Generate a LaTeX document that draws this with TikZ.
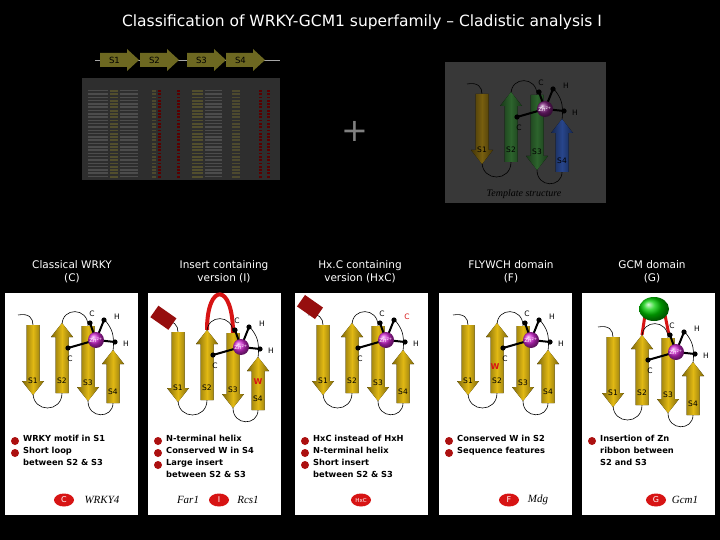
\documentclass[tikz,border=0pt]{standalone}
\usepackage{fontspec}
\setmainfont{DejaVu Sans}
\newfontfamily\ser{Liberation Serif}
\definecolor{gld}{RGB}{225,185,20}
\definecolor{zn}{RGB}{210,40,210}
\definecolor{rd}{RGB}{215,20,20}
\definecolor{ta}{RGB}{120,95,15}
\definecolor{tb}{RGB}{45,100,45}
\definecolor{tc}{RGB}{40,70,140}
\definecolor{tz}{RGB}{120,30,120}
\tikzset{
  stick/.style={black,line width=2pt},
  lab/.style={font=\fontsize{7.5}{8}\selectfont,inner sep=0pt},
  head/.style={white,font=\fontsize{10.5}{13}\selectfont,align=center},
  bul/.style={circle,fill=rd!80!black,inner sep=0pt,minimum size=8pt},
  btxt/.style={font=\fontsize{8.3}{12}\bfseries\selectfont,anchor=north west,align=left,inner sep=0pt},
  badge/.style={ellipse,fill=rd,text=white,font=\fontsize{8}{9}\selectfont,minimum width=20pt,minimum height=13pt,inner sep=0pt},
  panel/.style={fill=white,draw=none},
  nm/.style={font=\ser\itshape\fontsize{11}{12}\selectfont}
}
\usetikzlibrary{shapes.geometric}
\newcommand\dnarr[4]{\fill[left color=#4!55!black,right color=#4!55!black,middle color=#4] (#1-6.5,#2) -- (#1+6.5,#2) -- (#1+6.5,#3-14) -- (#1+11,#3-14) -- (#1,#3) -- (#1-11,#3-14) -- (#1-6.5,#3-14) -- cycle;}
\newcommand\uparr[4]{\fill[left color=#4!55!black,right color=#4!55!black,middle color=#4] (#1-6.5,#3) -- (#1+6.5,#3) -- (#1+6.5,#2+14) -- (#1+11,#2+14) -- (#1,#2) -- (#1-11,#2+14) -- (#1-6.5,#2+14) -- cycle;}
% topology: colors 1-4, zn colour 5, line colour 6
\newcommand\topo[6]{%
  \draw[#6,line width=0.6pt] (13,22) .. controls (24,20) and (28,25) .. (28,32);
  \draw[#6,line width=0.6pt] (28,100) .. controls (28,120) and (57,120) .. (57,100);
  \draw[#6,line width=0.6pt] (57,32) .. controls (57,14) and (83,14) .. (83,33);
  \draw[#6,line width=0.6pt] (83,108) .. controls (83,126) and (108,126) .. (108,110);
  \draw[#6,line width=0.6pt] (100,27) .. controls (106,35) and (110,40) .. (108,58);
  \dnarr{28}{32}{102}{#1}
  \uparr{57}{30}{100}{#2}
  \dnarr{83}{33}{108}{#3}
  \uparr{108}{57}{110}{#4}
  \draw[stick,#6] (63,55) -- (91,47) -- (110,49);
  \draw[stick,#6] (85,30) -- (91,47) -- (99,27);
  \shade[ball color=#5] (91,47) circle (8);
  \node[lab,text=white,font=\fontsize{5.5}{6}\selectfont] at (91,47) {Zn\textsuperscript{2+}};
  \foreach \p in {(63,55),(85,30),(99,27),(110,49)} \fill[#6] \p circle (2.6);
  \node[lab,text=#6] at (87,21) {C};
  \node[lab,text=#6] at (112,24) {H};
  \node[lab,text=#6] at (121,51) {H};
  \node[lab,text=#6] at (65,66) {C};
  \node[lab,text=#6] at (28,88) {S1};
  \node[lab,text=#6] at (57,88) {S2};
  \node[lab,text=#6] at (83,90) {S3};
  \node[lab,text=#6] at (108,99) {S4};
}
\begin{document}
\begin{tikzpicture}[x=1pt,y=-1pt]
\fill[black] (0,0) rectangle (720,540);
\useasboundingbox (0,0) rectangle (720,540);
\node[white,font=\fontsize{15.5}{18}\selectfont] (title) at (362,22) {Classification of WRKY-GCM1 superfamily – Cladistic analysis I};
% top strand bar
\draw[gray!70,line width=0.8pt] (95,60) -- (280,60);
\foreach \a/\b/\t [count=\i] in {100/135/S1,140/175/S2,187/222/S3,226/261/S4}{
  \fill[olive!70!black] (\a,53) -- (\b-8,53) -- (\b-8,49) -- (\b+4,60) -- (\b-8,71) -- (\b-8,67) -- (\a,67) -- cycle;
  \node[lab,font=\fontsize{8.5}{9}\selectfont] (s\i) at ({(\a+\b)/2-3},60) {\t};
}
% alignment table
\fill[black!82] (82,78) rectangle (280,180);
\foreach \r in {0,...,26}{
  \fill[black!70] (88,{90+3.3*\r}) rectangle (108,{91.5+3.3*\r});
  \fill[olive!45!black] (110,{90+3.3*\r}) rectangle (118,{91.8+3.3*\r});
  \fill[black!70] (120,{90+3.3*\r}) rectangle (138,{91.5+3.3*\r});
  \fill[olive!40!black] (152,{90+3.3*\r}) rectangle (156,{91.8+3.3*\r});
  \fill[red!35!black] (158,{90+3.3*\r}) rectangle (161,{91.8+3.3*\r});
  \fill[red!35!black] (177,{90+3.3*\r}) rectangle (180,{91.8+3.3*\r});
  \fill[olive!45!black] (192,{90+3.3*\r}) rectangle (203,{91.8+3.3*\r});
  \fill[black!70] (205,{90+3.3*\r}) rectangle (222,{91.5+3.3*\r});
  \fill[olive!40!black] (232,{90+3.3*\r}) rectangle (240,{91.8+3.3*\r});
  \fill[red!35!black] (259,{90+3.3*\r}) rectangle (262,{91.8+3.3*\r});
  \fill[red!35!black] (267,{90+3.3*\r}) rectangle (270,{91.8+3.3*\r});
}
\node[gray,font=\fontsize{32}{32}\selectfont] (plus) at (355,131) {+};
% template
\fill[black!78] (445,62) rectangle (606,203);
\begin{scope}[shift={(454,62)}]
 \topo{ta}{tb}{tb}{tc}{tz}{black}
\end{scope}
\node[font=\ser\itshape\fontsize{10}{11}\selectfont] (tmpl) at (524,194) {Template structure};
% headings
\node[head] (h1) at (72,272) {Classical WRKY\\(C)};
\node[head] (h2) at (224,272) {Insert containing\\version (I)};
\node[head] (h3) at (360,272) {Hx.C containing\\version (HxC)};
\node[head] (h4) at (511,272) {FLYWCH domain\\(F)};
\node[head] (h5) at (652,272) {GCM domain\\(G)};
% panels
\foreach \x in {5,148,295,439,582} \fill[panel] (\x,293) rectangle (\x+133,515);
% panel 1
\begin{scope}[shift={(5,293)}] \topo{gld}{gld}{gld}{gld}{zn}{black} \end{scope}
% panel 2
\begin{scope}[shift={(150,300)}]
 \draw[rd,line width=4pt] (57,30) .. controls (57,-18) and (83,-18) .. (83,33);
 \topo{gld}{gld}{gld}{gld}{zn}{black}
 \node[lab,text=rd,font=\bfseries\fontsize{8}{8}\selectfont] at (108,82) {W};
 \fill[rd!70!black,rotate around={-35:(12,18)}] (2,10) rectangle (24,24);
\end{scope}
% panel 3
\begin{scope}[shift={(295,293)}]
 \topo{gld}{gld}{gld}{gld}{zn}{black}
 \fill[white] (108,18) rectangle (118,30);
 \node[lab,text=rd] at (112,24) {C};
 \fill[rd!70!black,rotate around={-35:(15,14)}] (4,7) rectangle (26,21);
\end{scope}
% panel 4
\begin{scope}[shift={(440,293)}]
 \topo{gld}{gld}{gld}{gld}{zn}{black}
 \node[lab,text=rd,font=\bfseries\fontsize{8}{8}\selectfont] at (55,74) {W};
\end{scope}
% panel 5
\begin{scope}[shift={(585,305)}]
 \draw[rd,line width=3pt] (60,10) -- (57,30);
 \draw[rd,line width=3pt] (80,10) -- (84,30);
 \topo{gld}{gld}{gld}{gld}{zn}{black}
 \shade[ball color=green!80!black] (69,4) ellipse (15 and 12);
\end{scope}
% bullets
\foreach \x/\lines in {
  5/{WRKY motif in S1,Short loop},
  148/{N-terminal helix,Conserved W in S4,Large insert},
  295/{HxC instead of HxH,N-terminal helix,Short insert},
  439/{Conserved W in S2,Sequence features},
  582/{Insertion of Zn}}{
  \foreach \l [count=\j] in \lines {
   \node[bul] at (\x+10,{441+12*(\j-1)}) {};
   \node[btxt] at (\x+18,{435+12*(\j-1)}) {\l};
  }
}
\node[btxt] (c1) at (23,459) {between S2 \& S3};
\node[btxt] (c2) at (166,471) {between S2 \& S3};
\node[btxt] (c3) at (313,471) {between S2 \& S3};
\node[btxt] (c5) at (600,447) {ribbon between\\S2 and S3};
% badges
\node[badge] (b1) at (64,500) {C};
\node[nm] (n1) at (102,500) {WRKY4};
\node[nm] (n2a) at (188,500) {Far1};
\node[badge] (b2) at (219,500) {I};
\node[nm] (n2b) at (248,500) {Rcs1};
\node[badge,font=\fontsize{5.5}{6}\selectfont] (b3) at (361,500) {HxC};
\node[badge] (b4) at (509,500) {F};
\node[nm] (n4) at (538,500) {Mdg};
\node[badge] (b5) at (656,500) {G};
\node[nm] (n5) at (685,500) {Gcm1};
\end{tikzpicture}
\end{document}
